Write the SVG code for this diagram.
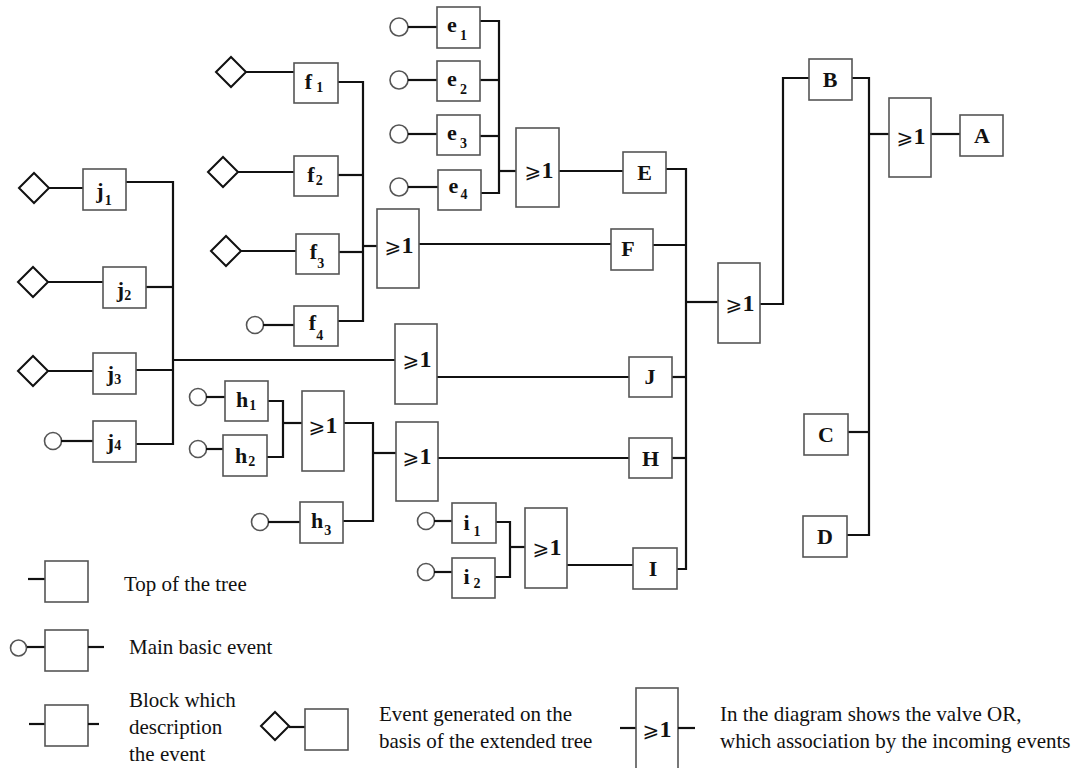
<svg xmlns="http://www.w3.org/2000/svg" width="1080" height="768" viewBox="0 0 1080 768">
<style>
.bx{fill:#fff;stroke:#555;stroke-width:1.6}
.gt{fill:#fff;stroke:#555;stroke-width:1.6}
.ci{fill:#fff;stroke:#555;stroke-width:1.6}
.dm{fill:#fff;stroke:#111;stroke-width:2}
.st{stroke:#111;stroke-width:2.2;fill:none}
.cn{stroke:#111;stroke-width:2.2;fill:none}
.lb{font-family:"Liberation Serif","Times New Roman",serif;font-weight:bold;font-size:22px;fill:#111;text-anchor:middle}
.sb{font-size:14px}
.or{font-family:"Liberation Serif","Times New Roman",serif;font-weight:bold;font-size:24px;fill:#111;text-anchor:middle}
.sym{font-family:"DejaVu Sans",sans-serif;font-weight:normal;font-size:20px}
.tx{font-family:"Liberation Serif","Times New Roman",serif;font-size:21px;fill:#111}
</style>

<g id="connectors">
  <polyline class="cn" points="480,21 499,21 499,193 481,193"/>
  <line class="cn" x1="480" y1="80" x2="499" y2="80"/>
  <line class="cn" x1="480" y1="136" x2="499" y2="136"/>
  <line class="cn" x1="499" y1="171" x2="516" y2="171"/>
  <line class="cn" x1="559" y1="171" x2="623" y2="171"/>
  <polyline class="cn" points="338,82 363,82 363,321 338,321"/>
  <line class="cn" x1="338" y1="175" x2="363" y2="175"/>
  <line class="cn" x1="339" y1="252" x2="363" y2="252"/>
  <line class="cn" x1="363" y1="246" x2="377" y2="246"/>
  <line class="cn" x1="419" y1="244" x2="611" y2="244"/>
  <polyline class="cn" points="126,182 173,182 173,444 136,444"/>
  <line class="cn" x1="146" y1="287" x2="173" y2="287"/>
  <line class="cn" x1="136" y1="370" x2="173" y2="370"/>
  <line class="cn" x1="173" y1="360" x2="395" y2="360"/>
  <line class="cn" x1="437" y1="377" x2="629" y2="377"/>
  <polyline class="cn" points="268,401 283,401 283,457 267,457"/>
  <line class="cn" x1="283" y1="423" x2="302" y2="423"/>
  <polyline class="cn" points="344,423 373,423 373,521 343,521"/>
  <line class="cn" x1="373" y1="453" x2="396" y2="453"/>
  <line class="cn" x1="438" y1="458" x2="629" y2="458"/>
  <polyline class="cn" points="496,522 510,522 510,577 495,577"/>
  <line class="cn" x1="510" y1="547" x2="525" y2="547"/>
  <line class="cn" x1="567" y1="565" x2="633" y2="565"/>
  <polyline class="cn" points="666,169 686,169 686,569 677,569"/>
  <line class="cn" x1="653" y1="245" x2="686" y2="245"/>
  <line class="cn" x1="672" y1="377" x2="686" y2="377"/>
  <line class="cn" x1="672" y1="458" x2="686" y2="458"/>
  <line class="cn" x1="686" y1="302" x2="718" y2="302"/>
  <polyline class="cn" points="760,304 783,304 783,78 809,78"/>
  <polyline class="cn" points="852,78 869,78 869,535 847,535"/>
  <line class="cn" x1="848" y1="432" x2="869" y2="432"/>
  <line class="cn" x1="869" y1="134" x2="889" y2="134"/>
  <line class="cn" x1="931" y1="134" x2="960" y2="134"/>
</g>

<g id="e1"><circle class="ci" cx="399" cy="27" r="9"/><line class="st" x1="408" y1="27" x2="437" y2="27"/><rect class="bx" x="437" y="7" width="43" height="41"/><text class="lb" x="457" y="32">e<tspan class="sb" dx="3" dy="8">1</tspan></text></g>
<g id="e2"><circle class="ci" cx="399" cy="80" r="9"/><line class="st" x1="408" y1="80" x2="437" y2="80"/><rect class="bx" x="437" y="61" width="43" height="40"/><text class="lb" x="457" y="86">e<tspan class="sb" dx="3" dy="8">2</tspan></text></g>
<g id="e3"><circle class="ci" cx="399" cy="134" r="9"/><line class="st" x1="408" y1="134" x2="437" y2="134"/><rect class="bx" x="437" y="115" width="43" height="40"/><text class="lb" x="457" y="140">e<tspan class="sb" dx="3" dy="8">3</tspan></text></g>
<g id="e4"><circle class="ci" cx="399" cy="187" r="9"/><line class="st" x1="408" y1="187" x2="438" y2="187"/><rect class="bx" x="438" y="170" width="43" height="40"/><text class="lb" x="458" y="193">e<tspan class="sb" dx="2" dy="6">4</tspan></text></g>
<g id="orE"><rect class="gt" x="516" y="128" width="43" height="79"/><text class="or" x="539" y="178"><tspan class="sym">⩾</tspan>1</text></g>
<g id="E"><rect class="bx" x="623" y="152" width="43" height="41"/><text class="lb" x="644.5" y="180">E</text></g>

<g id="f1"><polygon class="dm" points="216,72 231,57 246,72 231,87"/><line class="st" x1="246" y1="72" x2="294" y2="72"/><rect class="bx" x="294" y="63" width="44" height="40"/><text class="lb" x="314" y="89">f<tspan class="sb" dx="4" dy="3">1</tspan></text></g>
<g id="f2"><polygon class="dm" points="208,172 223,157 238,172 223,187"/><line class="st" x1="238" y1="172" x2="294" y2="172"/><rect class="bx" x="294" y="156" width="44" height="40"/><text class="lb" x="315" y="182">f<tspan class="sb" dx="1" dy="3">2</tspan></text></g>
<g id="f3"><polygon class="dm" points="211,251 226,236 241,251 226,266"/><line class="st" x1="241" y1="251" x2="296" y2="251"/><rect class="bx" x="296" y="234" width="43" height="40"/><text class="lb" x="317" y="259">f<tspan class="sb" dx="0" dy="9">3</tspan></text></g>
<g id="f4"><circle class="ci" cx="255" cy="325" r="8.5"/><line class="st" x1="263" y1="325" x2="294" y2="325"/><rect class="bx" x="294" y="306" width="44" height="40"/><text class="lb" x="316" y="330">f<tspan class="sb" dx="0" dy="10">4</tspan></text></g>
<g id="orF"><rect class="gt" x="377" y="209" width="42" height="79"/><text class="or" x="399" y="253"><tspan class="sym">⩾</tspan>1</text></g>
<g id="F"><rect class="bx" x="611" y="229" width="42" height="41"/><text class="lb" x="628" y="256">F</text></g>

<g id="j1"><polygon class="dm" points="19,188 34,173 49,188 34,203"/><line class="st" x1="49" y1="188" x2="83" y2="188"/><rect class="bx" x="83" y="169" width="43" height="41"/><text class="lb" x="104" y="198">j<tspan class="sb" dx="1" dy="7">1</tspan></text></g>
<g id="j2"><polygon class="dm" points="18,282 33,267 48,282 33,297"/><line class="st" x1="48" y1="282" x2="103" y2="282"/><rect class="bx" x="103" y="267" width="43" height="41"/><text class="lb" x="124" y="297">j<tspan class="sb" dx="0" dy="3">2</tspan></text></g>
<g id="j3"><polygon class="dm" points="18,371 33,356 48,371 33,386"/><line class="st" x1="48" y1="371" x2="93" y2="371"/><rect class="bx" x="93" y="353" width="43" height="41"/><text class="lb" x="114" y="381">j<tspan class="sb" dx="0" dy="3">3</tspan></text></g>
<g id="j4"><circle class="ci" cx="53" cy="441" r="8.5"/><line class="st" x1="61" y1="441" x2="93" y2="441"/><rect class="bx" x="93" y="421" width="43" height="41"/><text class="lb" x="114" y="449">j<tspan class="sb" dx="0" dy="1">4</tspan></text></g>
<g id="orJ"><rect class="gt" x="395" y="324" width="42" height="80"/><text class="or" x="417" y="367"><tspan class="sym">⩾</tspan>1</text></g>
<g id="J"><rect class="bx" x="629" y="357" width="43" height="40"/><text class="lb" x="650" y="384">J</text></g>

<g id="h1"><circle class="ci" cx="198" cy="397" r="8.5"/><line class="st" x1="206" y1="397" x2="225" y2="397"/><rect class="bx" x="225" y="381" width="43" height="40"/><text class="lb" x="246" y="407">h<tspan class="sb" dx="1" dy="3">1</tspan></text></g>
<g id="h2"><circle class="ci" cx="198" cy="449" r="8.5"/><line class="st" x1="206" y1="449" x2="223" y2="449"/><rect class="bx" x="223" y="435" width="44" height="41"/><text class="lb" x="245" y="463">h<tspan class="sb" dx="1" dy="3">2</tspan></text></g>
<g id="orH12"><rect class="gt" x="302" y="391" width="42" height="80"/><text class="or" x="323" y="433"><tspan class="sym">⩾</tspan>1</text></g>
<g id="h3"><circle class="ci" cx="260" cy="522" r="8.5"/><line class="st" x1="268" y1="522" x2="300" y2="522"/><rect class="bx" x="300" y="502" width="43" height="41"/><text class="lb" x="321" y="528">h<tspan class="sb" dx="1" dy="7">3</tspan></text></g>
<g id="orH"><rect class="gt" x="396" y="422" width="42" height="79"/><text class="or" x="417" y="464"><tspan class="sym">⩾</tspan>1</text></g>
<g id="H"><rect class="bx" x="629" y="438" width="43" height="40"/><text class="lb" x="650.5" y="466">H</text></g>

<g id="i1"><circle class="ci" cx="426" cy="521" r="8.5"/><line class="st" x1="434" y1="521" x2="452" y2="521"/><rect class="bx" x="452" y="503" width="44" height="40"/><text class="lb" x="472" y="530">i<tspan class="sb" dx="4" dy="6">1</tspan></text></g>
<g id="i2"><circle class="ci" cx="426" cy="572" r="8.5"/><line class="st" x1="434" y1="572" x2="452" y2="572"/><rect class="bx" x="452" y="558" width="43" height="40"/><text class="lb" x="472" y="584">i<tspan class="sb" dx="4" dy="4">2</tspan></text></g>
<g id="orI"><rect class="gt" x="525" y="508" width="42" height="80"/><text class="or" x="547" y="555"><tspan class="sym">⩾</tspan>1</text></g>
<g id="I"><rect class="bx" x="633" y="548" width="44" height="41"/><text class="lb" x="653" y="576">I</text></g>

<g id="orMid"><rect class="gt" x="718" y="263" width="42" height="80"/><text class="or" x="740" y="311"><tspan class="sym">⩾</tspan>1</text></g>
<g id="B"><rect class="bx" x="809" y="59" width="43" height="41"/><text class="lb" x="830" y="87">B</text></g>
<g id="C"><rect class="bx" x="804" y="414" width="44" height="41"/><text class="lb" x="826" y="442">C</text></g>
<g id="D"><rect class="bx" x="803" y="516" width="44" height="41"/><text class="lb" x="825" y="544">D</text></g>
<g id="orA"><rect class="gt" x="889" y="98" width="42" height="79"/><text class="or" x="911" y="144"><tspan class="sym">⩾</tspan>1</text></g>
<g id="A"><rect class="bx" x="960" y="115" width="43" height="41"/><text class="lb" x="982" y="143">A</text></g>

<g id="legend-top"><line class="st" x1="28" y1="579" x2="45" y2="579"/><rect class="bx" x="45" y="561" width="43" height="41"/><text class="tx" x="124" y="591">Top of the tree</text></g>
<g id="legend-basic"><circle class="ci" cx="18.5" cy="648" r="8"/><line class="st" x1="27" y1="647" x2="45" y2="647"/><rect class="bx" x="45" y="630" width="43" height="41"/><line class="st" x1="88" y1="647" x2="104" y2="647"/><text class="tx" x="129" y="654">Main basic event</text></g>
<g id="legend-block"><line class="st" x1="29" y1="724" x2="45" y2="724"/><rect class="bx" x="45" y="705" width="43" height="41"/><line class="st" x1="88" y1="724" x2="99" y2="724"/><text class="tx" x="129" y="707">Block which</text><text class="tx" x="129" y="734">description</text><text class="tx" x="129" y="761">the event</text></g>
<g id="legend-generated"><polygon class="dm" points="261,726 275,712 289,726 275,740"/><line class="st" x1="289" y1="727" x2="305" y2="727"/><rect class="bx" x="305" y="709" width="43" height="41"/><text class="tx" x="379" y="721">Event generated on the</text><text class="tx" x="379" y="748">basis of the extended tree</text></g>
<g id="legend-or"><line class="st" x1="620" y1="728" x2="636" y2="728"/><rect class="gt" x="636" y="688" width="42" height="82"/><line class="st" x1="678" y1="728" x2="695" y2="728"/><text class="or" x="657" y="737"><tspan class="sym">⩾</tspan>1</text><text class="tx" x="720" y="721">In the diagram shows the valve OR,</text><text class="tx" x="720" y="748">which association by the incoming events</text></g>
</svg>
